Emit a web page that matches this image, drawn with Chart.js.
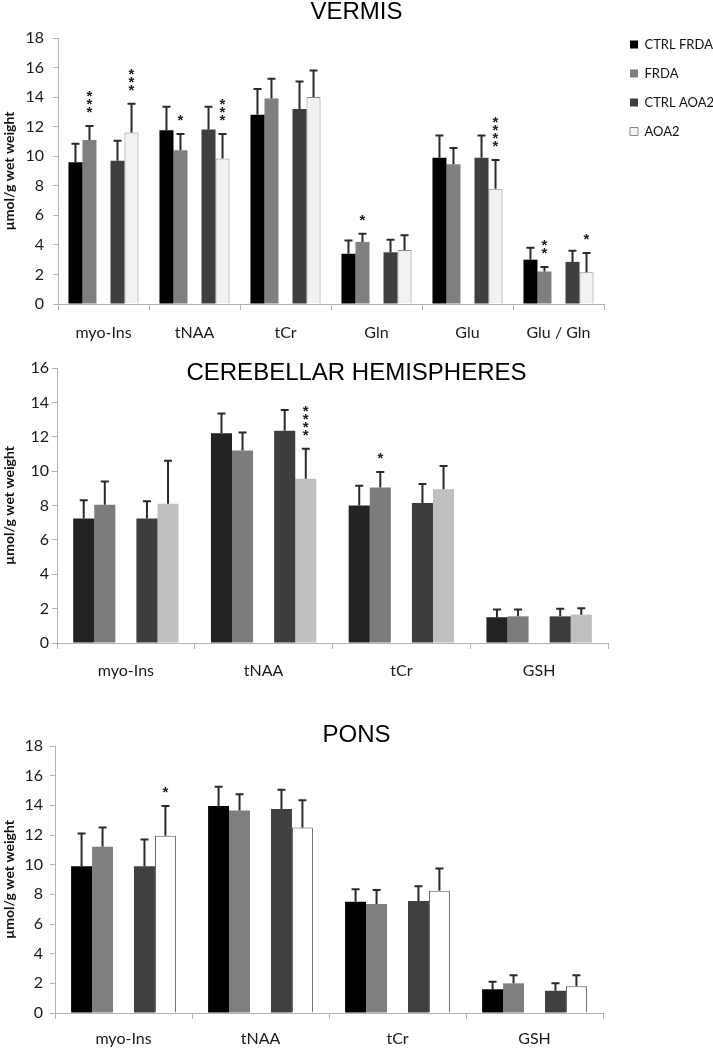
<!DOCTYPE html>
<html lang="en">
<head>
<meta charset="UTF-8">
<title>Metabolite concentrations</title>
<style>
  body { margin: 0; background: #fff; }
  canvas { position: absolute; left: 0; }
</style>
</head>
<body>
<canvas id="vermis" width="713" height="345" style="top:0px"></canvas>
<canvas id="hemis" width="713" height="335" style="top:345px"></canvas>
<canvas id="pons" width="713" height="368" style="top:680px"></canvas>

<script src="https://cdn.jsdelivr.net/npm/chart.js"></script>
<script>
// groups
const groupNames = ['CTRL FRDA', 'FRDA', 'CTRL AOA2', 'AOA2'];

// VERMIS
const vermisCats = ['myo-Ins', 'tNAA', 'tCr', 'Gln', 'Glu', 'Glu / Gln'];
const vermisCtrlFrda = [9.6, 11.75, 12.8, 3.4, 9.9, 3.0];
const vermisFrda = [11.1, 10.4, 13.9, 4.2, 9.45, 2.2];
const vermisCtrlAoa2 = [9.7, 11.8, 13.2, 3.5, 9.9, 2.85];
const vermisAoa2 = [11.6, 9.85, 14.0, 3.65, 7.8, 2.15];
const vermisCtrlFrdaSd = [1.25, 1.6, 1.75, 0.9, 1.5, 0.8];
const vermisFrdaSd = [0.95, 1.1, 1.35, 0.55, 1.1, 0.3];
const vermisCtrlAoa2Sd = [1.35, 1.55, 1.85, 0.85, 1.5, 0.75];
const vermisAoa2Sd = [1.95, 1.65, 1.8, 1.0, 1.95, 1.3];
const vermisFrdaStars = ['***', '*', '', '*', '', '**'];
const vermisAoa2Stars = ['***', '***', '', '', '****', '*'];

// CEREBELLAR HEMISPHERES
const hemisCats = ['myo-Ins', 'tNAA', 'tCr', 'GSH'];
const hemisCtrlFrda = [7.25, 12.2, 8.0, 1.5];
const hemisFrda = [8.05, 11.2, 9.05, 1.55];
const hemisCtrlAoa2 = [7.25, 12.35, 8.15, 1.55];
const hemisAoa2 = [8.1, 9.55, 8.95, 1.65];
const hemisCtrlFrdaSd = [1.05, 1.15, 1.15, 0.45];
const hemisFrdaSd = [1.35, 1.05, 0.9, 0.4];
const hemisCtrlAoa2Sd = [1.0, 1.2, 1.1, 0.45];
const hemisAoa2Sd = [2.5, 1.75, 1.35, 0.37];
const hemisFrdaStars = ['', '', '*', ''];
const hemisAoa2Stars = ['', '****', '', ''];

// PONS
const ponsCats = ['myo-Ins', 'tNAA', 'tCr', 'GSH'];
const ponsCtrlFrda = [9.9, 13.95, 7.5, 1.6];
const ponsFrda = [11.2, 13.65, 7.35, 2.0];
const ponsCtrlAoa2 = [9.9, 13.75, 7.55, 1.5];
const ponsAoa2 = [11.95, 12.5, 8.25, 1.8];
const ponsCtrlFrdaSd = [2.2, 1.3, 0.85, 0.5];
const ponsFrdaSd = [1.3, 1.1, 0.95, 0.55];
const ponsCtrlAoa2Sd = [1.8, 1.3, 1.0, 0.5];
const ponsAoa2Sd = [2.0, 1.85, 1.5, 0.75];
const ponsAoa2Stars = ['*', '', '', ''];

Chart.defaults.font.family = 'Lato';
Chart.defaults.color = '#222';

// upper error bars + significance asterisks
const errorBars = {
  id: 'errorBars',
  afterDatasetsDraw(chart) {
    const ctx = chart.ctx;
    const y = chart.scales.y;
    chart.data.datasets.forEach((ds, i) => {
      if (!ds.sd) return;
      const meta = chart.getDatasetMeta(i);
      meta.data.forEach((bar, j) => {
        const top = y.getPixelForValue(ds.data[j] + ds.sd[j]);
        ctx.save();
        ctx.strokeStyle = '#2a2a2a';
        ctx.lineWidth = 2;
        ctx.beginPath();
        ctx.moveTo(bar.x, bar.y);
        ctx.lineTo(bar.x, top);
        ctx.moveTo(bar.x - 4, top);
        ctx.lineTo(bar.x + 4, top);
        ctx.stroke();
        const s = ds.stars ? ds.stars[j] : '';
        if (s) {
          ctx.fillStyle = '#222';
          ctx.font = 'bold 15px "Liberation Sans"';
          ctx.textAlign = 'center';
          ctx.textBaseline = 'middle';
          for (let k = 0; k < s.length; k++) {
            ctx.fillText('*', bar.x, top - 13 - k * 8);
          }
        }
        ctx.restore();
      });
    });
  }
};

function makeChart(id, o) {
  const ds = (k) => ({
    label: groupNames[k],
    data: o.values[k],
    sd: o.sds[k],
    stars: o.stars[k],
    backgroundColor: o.colors[k],
    borderColor: o.borders[k] || o.colors[k],
    borderWidth: o.borders[k] ? 1 : 0
  });
  const gap = { label: '', data: o.cats.map(() => null), backgroundColor: 'rgba(0,0,0,0)' };
  const tickColor = '#b3b3b3';

  return new Chart(document.getElementById(id), {
    type: 'bar',
    data: { labels: o.cats, datasets: [ds(0), ds(1), gap, ds(2), ds(3)] },
    options: {
      responsive: false,
      animation: false,
      devicePixelRatio: 1,
      datasets: { bar: { barPercentage: 1.0, categoryPercentage: o.catPct } },
      layout: { padding: 0 },
      plugins: {
        tooltip: { enabled: false },
        title: {
          display: true,
          text: o.title,
          color: '#000',
          font: { family: 'Liberation Sans', size: 24, weight: 'normal', lineHeight: 1 },
          padding: o.titlePad
        },
        legend: o.legend ? {
          display: true,
          position: 'right',
          align: 'start',
          maxWidth: 99,
          title: { display: true, text: ' ', font: { size: 10, lineHeight: 1 }, padding: { top: 0, bottom: 12 } },
          labels: {
            boxWidth: 8,
            boxHeight: 8,
            padding: 16,
            color: '#111',
            font: { size: 13 },
            filter: (item) => item.text !== ''
          }
        } : { display: false }
      },
      scales: {
        x: {
          grid: { display: true, drawOnChartArea: false, tickLength: 6, color: tickColor },
          border: { color: tickColor },
          ticks: { font: { size: 16 }, color: '#1a1a1a', padding: o.xTickPad },
          afterFit: (s) => { s.height = o.xHeight; }
        },
        y: {
          min: 0,
          max: o.yMax,
          ticks: { stepSize: 2, font: { size: 16 }, color: '#1a1a1a', padding: o.yTickPad },
          grid: { display: true, drawOnChartArea: false, tickLength: 5, color: tickColor },
          border: { color: tickColor },
          title: {
            display: true,
            text: 'µmol/g wet weight',
            color: '#111',
            font: { size: 14, weight: 'bold' },
            padding: { top: 1, bottom: 0 }
          },
          afterFit: (s) => { s.width = o.left; }
        },
        y2: {
          position: 'right',
          display: true,
          grid: { display: false },
          border: { display: false },
          ticks: { display: false },
          afterFit: (s) => { s.width = o.rightGap; }
        }
      }
    },
    plugins: [errorBars]
  });
}

makeChart('vermis', {
  title: 'VERMIS',
  titlePad: { top: 0, bottom: 14 },
  cats: vermisCats,
  values: [vermisCtrlFrda, vermisFrda, vermisCtrlAoa2, vermisAoa2],
  sds: [vermisCtrlFrdaSd, vermisFrdaSd, vermisCtrlAoa2Sd, vermisAoa2Sd],
  stars: [null, vermisFrdaStars, null, vermisAoa2Stars],
  colors: ['#000000', '#7f7f7f', '#3f3f3f', '#f2f2f2'],
  borders: [null, null, null, '#8a8a8a'],
  catPct: 0.77,
  yMax: 18,
  yTickPad: 9,
  xTickPad: 13,
  left: 58,
  xHeight: 41,
  rightGap: 10,
  legend: true
});

makeChart('hemis', {
  title: 'CEREBELLAR HEMISPHERES',
  titlePad: { top: 16, bottom: -17 },
  cats: hemisCats,
  values: [hemisCtrlFrda, hemisFrda, hemisCtrlAoa2, hemisAoa2],
  sds: [hemisCtrlFrdaSd, hemisFrdaSd, hemisCtrlAoa2Sd, hemisAoa2Sd],
  stars: [null, hemisFrdaStars, null, hemisAoa2Stars],
  colors: ['#222222', '#7c7c7c', '#3d3d3d', '#bfbfbf'],
  borders: [null, null, null, null],
  catPct: 0.765,
  yMax: 16,
  yTickPad: 3,
  xTickPad: 12,
  left: 57,
  xHeight: 37,
  rightGap: 105,
  legend: false
});

makeChart('pons', {
  title: 'PONS',
  titlePad: { top: 43, bottom: -1 },
  cats: ponsCats,
  values: [ponsCtrlFrda, ponsFrda, ponsCtrlAoa2, ponsAoa2],
  sds: [ponsCtrlFrdaSd, ponsFrdaSd, ponsCtrlAoa2Sd, ponsAoa2Sd],
  stars: [null, null, null, ponsAoa2Stars],
  colors: ['#000000', '#7f7f7f', '#404040', '#ffffff'],
  borders: [null, null, null, '#555555'],
  catPct: 0.765,
  yMax: 18,
  yTickPad: 7,
  xTickPad: 10,
  left: 55,
  xHeight: 35,
  rightGap: 110,
  legend: false
});
</script>
</body>
</html>
